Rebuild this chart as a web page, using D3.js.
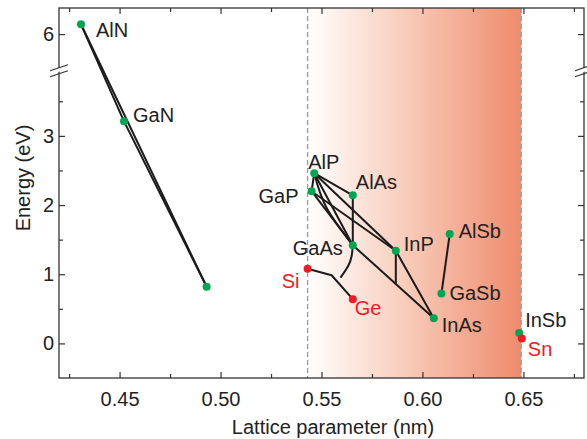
<!DOCTYPE html>
<html>
<head>
<meta charset="utf-8">
<script src="https://cdn.jsdelivr.net/npm/d3@7"></script>
<style>
  body { margin: 0; background: #fff; }
  svg { font-family: "Liberation Sans", Arial, sans-serif; }
</style>
</head>
<body>
<svg id="chart" width="587" height="439"></svg>
<script>
// semiconductor data
const materials = ["AlN", "GaN", "InN", "AlP", "GaP", "AlAs", "GaAs", "InP", "Si", "Ge", "InAs", "AlSb", "GaSb", "InSb", "Sn"];
const lattice   = [0.4309, 0.4522, 0.4931, 0.5464, 0.5451, 0.5655, 0.5655, 0.5868, 0.5431, 0.5655, 0.6056, 0.6135, 0.6094, 0.6479, 0.6492];
const energy    = [6.15, 3.21, 0.82, 2.46, 2.20, 2.14, 1.42, 1.34, 1.08, 0.64, 0.365, 1.58, 0.72, 0.15, 0.07];
const isGroupIV = ["Si", "Ge", "Sn"];
const unlabeled = ["InN"];

// straight alloy lines between binaries
const links = [
    ["AlN", "GaN"], ["GaN", "InN"], ["AlN", "InN"],
    ["AlP", "GaP"], ["AlP", "AlAs"], ["AlP", "GaAs"], ["GaP", "GaAs"],
    ["AlP", "InP"], ["GaP", "InP"], ["AlAs", "GaAs"],
    ["GaAs", "InAs"], ["InP", "InAs"], ["AlSb", "GaSb"]
];

// curved / partial alloy lines [lattice, energy]
const siGeCurve = [[0.5431, 1.08], [0.5550, 0.985], [0.5655, 0.64]];
const gaAsBranch = [[0.5655, 1.42], [0.5649, 1.26], [0.5632, 1.12], [0.5594, 0.95]];
const inGaAsLine = [[0.5868, 1.34], [0.5868, 0.86]];
const alPGaAsBow = [[0.5464, 2.46], [0.5525, 1.96], [0.5655, 1.42]];

// shaded band between Si and Sn lattice parameters
const bandEdges = [0.5431, 0.6489];

const xMajor = [0.45, 0.50, 0.55, 0.60, 0.65];
const xMinor = [0.425, 0.475, 0.525, 0.575, 0.625, 0.675];
const yMajor = [0, 1, 2, 3, 6];
const yMinor = [0.5, 1.5, 2.5, 3.5];

const margin = { top: 8, left: 59 };
const W = 525, H = 370;
const yBreak = 58.7;

const svg = d3.select("#chart");
const g = svg.append("g").attr("transform", `translate(${margin.left},${margin.top})`);

const x = d3.scaleLinear().domain([0.42, 0.68]).range([0, W]);
// broken axis: lower part -0.5..4, upper part 5.5..6.4
const y = d3.scaleLinear().domain([-0.5, 4, 5.5, 6.4]).range([H, yBreak, yBreak, 0]);

const pts = materials.map((m, i) => ({ name: m, a: lattice[i], e: energy[i] }));
const byName = {};
pts.forEach(p => byName[p.name] = p);

// gradient band
const grad = svg.append("defs").append("linearGradient")
    .attr("id", "band").attr("x1", "0%").attr("x2", "100%");
grad.append("stop").attr("offset", "0%").attr("stop-color", "#ffffff");
grad.append("stop").attr("offset", "45%").attr("stop-color", "#f8cdbb");
grad.append("stop").attr("offset", "100%").attr("stop-color", "#ef8b6d");

g.append("rect")
    .attr("x", x(bandEdges[0]))
    .attr("y", 0)
    .attr("width", x(bandEdges[1]) - x(bandEdges[0]))
    .attr("height", H)
    .attr("fill", "url(#band)");

g.selectAll(".edge")
    .data(bandEdges)
    .join("line")
    .attr("x1", d => x(d)).attr("x2", d => x(d))
    .attr("y1", 0).attr("y2", H)
    .attr("stroke", "#9a9a9a")
    .attr("stroke-width", 1.3)
    .attr("stroke-dasharray", "5,3");

// alloy lines
const lineGen = d3.line().x(d => x(d[0])).y(d => y(d[1]));
const lineStyle = sel => sel
    .attr("fill", "none")
    .attr("stroke", "#1b1b1b")
    .attr("stroke-width", 2)
    .attr("stroke-linejoin", "round");

g.append("g").selectAll("path")
    .data(links.map(l => [[byName[l[0]].a, byName[l[0]].e], [byName[l[1]].a, byName[l[1]].e]]))
    .join("path")
    .attr("d", lineGen)
    .call(lineStyle);

g.append("path").datum(siGeCurve).attr("d", lineGen).call(lineStyle);
g.append("path").datum(inGaAsLine).attr("d", lineGen).call(lineStyle);
g.append("path").datum(gaAsBranch)
    .attr("d", d3.line().x(d => x(d[0])).y(d => y(d[1])).curve(d3.curveNatural))
    .call(lineStyle);
g.append("path").datum(alPGaAsBow)
    .attr("d", d3.line().x(d => x(d[0])).y(d => y(d[1])).curve(d3.curveNatural))
    .call(lineStyle);

// points
g.append("g").selectAll("circle")
    .data(pts)
    .join("circle")
    .attr("cx", d => x(d.a))
    .attr("cy", d => y(d.e))
    .attr("r", 4)
    .attr("fill", d => isGroupIV.includes(d.name) ? "#ed1c24" : "#00a651");

// label offsets (pixels from the point)
const labelPos = {
    AlN: [15, 13, "start"], GaN: [9, 1, "start"], AlP: [-6, -4, "start"],
    GaP: [-13, 12, "end"], AlAs: [3, -6, "start"], GaAs: [-10, 10, "end"],
    InP: [8, 0, "start"], Si: [-8, 19, "end"], Ge: [2, 16, "start"],
    InAs: [8, 14, "start"], AlSb: [9, 4, "start"], GaSb: [8, 6, "start"],
    InSb: [6, -6, "start"], Sn: [6, 17, "start"]
};

g.append("g").selectAll("text")
    .data(pts.filter(p => !unlabeled.includes(p.name)))
    .join("text")
    .attr("x", d => x(d.a) + labelPos[d.name][0])
    .attr("y", d => y(d.e) + labelPos[d.name][1])
    .attr("text-anchor", d => labelPos[d.name][2])
    .attr("font-size", 20)
    .attr("fill", d => isGroupIV.includes(d.name) ? "#ed1c24" : "#222")
    .text(d => d.name);

// axes
const axisColor = "#333";
function styleAxis(sel) {
    sel.select(".domain").remove();
    sel.selectAll("line").attr("stroke", axisColor).attr("stroke-width", 1.2);
    sel.selectAll("text").attr("font-size", 20).attr("fill", "#222")
        .attr("font-family", "Liberation Sans, Arial, sans-serif");
}

const fmt = d3.format(".2f");
g.append("g").attr("transform", `translate(0,${H})`)
    .call(d3.axisBottom(x).tickValues(xMajor).tickFormat(fmt).tickSize(-6).tickPadding(14))
    .call(styleAxis);
g.append("g").attr("transform", `translate(0,${H})`)
    .call(d3.axisBottom(x).tickValues(xMinor).tickFormat("").tickSize(-4))
    .call(styleAxis);
g.append("g")
    .call(d3.axisTop(x).tickValues(xMajor).tickFormat("").tickSize(-6))
    .call(styleAxis);
g.append("g")
    .call(d3.axisTop(x).tickValues(xMinor).tickFormat("").tickSize(-4))
    .call(styleAxis);

g.append("g")
    .call(d3.axisLeft(y).tickValues(yMajor).tickFormat(d3.format("d")).tickSize(-6).tickPadding(5))
    .call(styleAxis);
g.append("g")
    .call(d3.axisLeft(y).tickValues(yMinor).tickFormat("").tickSize(-4))
    .call(styleAxis);
g.append("g").attr("transform", `translate(${W},0)`)
    .call(d3.axisRight(y).tickValues(yMajor).tickFormat("").tickSize(-6))
    .call(styleAxis);
g.append("g").attr("transform", `translate(${W},0)`)
    .call(d3.axisRight(y).tickValues(yMinor).tickFormat("").tickSize(-4))
    .call(styleAxis);

// frame
g.append("rect")
    .attr("width", W).attr("height", H)
    .attr("fill", "none")
    .attr("stroke", axisColor)
    .attr("stroke-width", 1.3);

// axis break marks
[0, W].forEach(bx => {
    const brk = g.append("g").attr("transform", `translate(${bx},${yBreak + 2})`);
    brk.append("polygon")
        .attr("points", "-9,6 9,0 9,-4 -9,2")
        .attr("fill", "#fff");
    brk.append("line").attr("x1", -9).attr("y1", 2).attr("x2", 9).attr("y2", -4)
        .attr("stroke", axisColor).attr("stroke-width", 1.1);
    brk.append("line").attr("x1", -9).attr("y1", 8).attr("x2", 9).attr("y2", 2)
        .attr("stroke", axisColor).attr("stroke-width", 1.1);
});

// axis titles
svg.append("text")
    .attr("x", 333).attr("y", 434)
    .attr("text-anchor", "middle")
    .attr("font-size", 20).attr("fill", "#222")
    .text("Lattice parameter (nm)");

svg.append("text")
    .attr("transform", "translate(30,178) rotate(-90)")
    .attr("text-anchor", "middle")
    .attr("font-size", 20).attr("fill", "#222")
    .text("Energy (eV)");
</script>
</body>
</html>
